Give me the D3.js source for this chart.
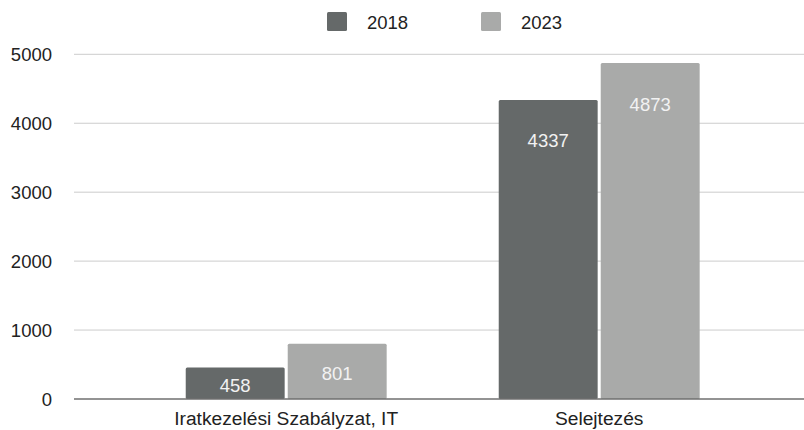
<!DOCTYPE html>
<html>
<head>
<meta charset="utf-8">
<script src="https://cdn.jsdelivr.net/npm/d3@7"></script>
<style>
    body { margin: 0; background: #fff; }
    text { font-family: "Liberation Sans", Arial, sans-serif; }
</style>
</head>
<body>
<div id="chart"></div>
<script>
const categories = ["Iratkezelési Szabályzat, IT", "Selejtezés"];
const years = ["2018", "2023"];
const values2018 = [458, 4337];
const values2023 = [801, 4873];
const yTicks = [0, 1000, 2000, 3000, 4000, 5000];
const colors = ["#656969", "#a9aaa9"];

const rows = categories.map((c, i) => ({ cat: c, vals: [values2018[i], values2023[i]] }));

const width = 804, height = 430;
const svg = d3.select("#chart").append("svg")
    .attr("width", width)
    .attr("height", height);

// plot area
const plot = { left: 74, right: 804, top: 54.3, bottom: 399 };

const y = d3.scaleLinear().domain([0, 5000]).range([plot.bottom, plot.top]);
const x = d3.scaleBand().domain(categories).range([129.7, 755.7])
    .paddingInner(0.358).paddingOuter(0.179);
const x1 = d3.scaleBand().domain(years).range([0, x.bandwidth()]).paddingInner(0.03);

// gridlines
svg.append("g")
    .selectAll("line")
    .data(yTicks.filter(d => d > 0))
    .join("line")
    .attr("x1", plot.left).attr("x2", plot.right)
    .attr("y1", d => y(d)).attr("y2", d => y(d))
    .attr("stroke", "#cccccc")
    .attr("stroke-width", 1);

// y axis labels
const yAxis = d3.axisLeft(y).tickValues(yTicks).tickFormat(d3.format("d")).tickSize(0).tickPadding(0);
const yg = svg.append("g").attr("transform", "translate(52,0)").call(yAxis);
yg.select(".domain").remove();
yg.selectAll("text")
    .attr("font-size", 18.5)
    .attr("font-family", "Liberation Sans, Arial, sans-serif")
    .attr("fill", "#222")
    .attr("dy", "0.35em");

// bars
const groups = svg.append("g")
    .selectAll("g")
    .data(rows)
    .join("g")
    .attr("transform", d => `translate(${x(d.cat)},0)`);

groups.selectAll("rect")
    .data(d => d.vals.map((v, i) => ({ year: years[i], v, i })))
    .join("rect")
    .attr("x", d => x1(d.year))
    .attr("width", x1.bandwidth())
    .attr("y", d => y(d.v))
    .attr("height", d => plot.bottom - y(d.v))
    .attr("rx", 1.5)
    .attr("fill", d => colors[d.i]);

// value labels
groups.selectAll("text")
    .data(d => d.vals.map((v, i) => ({ year: years[i], v, i })))
    .join("text")
    .attr("x", d => x1(d.year) + x1.bandwidth() / 2)
    .attr("y", d => {
        const t = y(d.v);
        let c = Math.min(t + 41, (t + plot.bottom) / 2 + 2);
        c = Math.min(c, plot.bottom - 11);
        return c;
    })
    .attr("dy", "0.35em")
    .attr("text-anchor", "middle")
    .attr("font-size", 18.5)
    .attr("fill", "#f2f2f2")
    .text(d => d.v);

// baseline
svg.append("line")
    .attr("x1", plot.left).attr("x2", plot.right)
    .attr("y1", plot.bottom).attr("y2", plot.bottom)
    .attr("stroke", "#6f6f6f")
    .attr("stroke-width", 1.3);

// x axis labels
const xAxis = d3.axisBottom(x).tickSize(0).tickPadding(0);
const xg = svg.append("g").attr("transform", `translate(0,${plot.bottom})`).call(xAxis);
xg.select(".domain").remove();
xg.selectAll("text")
    .attr("font-size", 19.2)
    .attr("font-family", "Liberation Sans, Arial, sans-serif")
    .attr("fill", "#222")
    .attr("y", 19)
    .attr("dy", "0.35em");

// legend
const legendX = [327, 481];
const legend = svg.append("g")
    .selectAll("g")
    .data(years)
    .join("g")
    .attr("transform", (d, i) => `translate(${legendX[i]},12)`);
legend.append("rect")
    .attr("width", 20).attr("height", 19).attr("rx", 1.5)
    .attr("fill", (d, i) => colors[i]);
legend.append("text")
    .attr("x", 40).attr("y", 17)
    .attr("font-size", 18.5)
    .attr("fill", "#222")
    .text(d => d);
</script>
</body>
</html>
